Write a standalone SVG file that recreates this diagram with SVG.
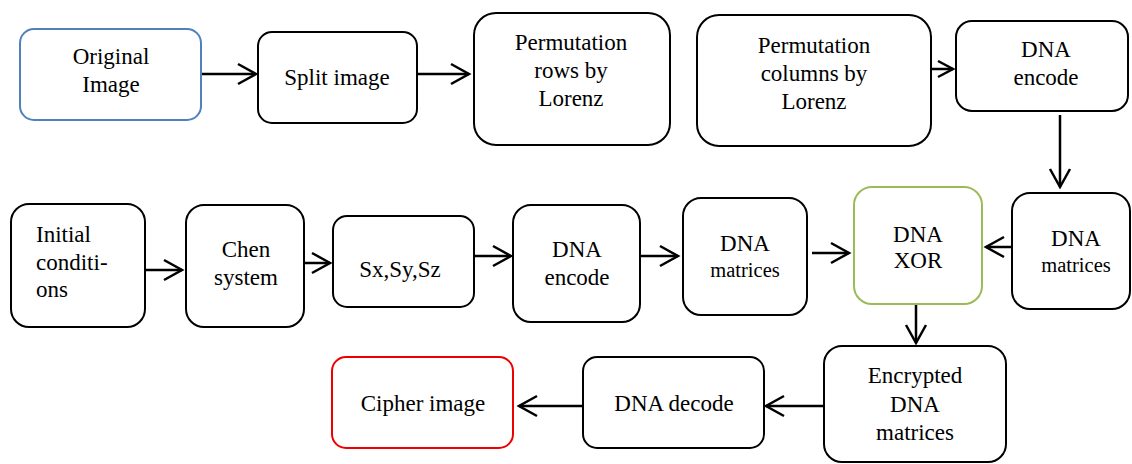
<svg xmlns="http://www.w3.org/2000/svg" width="1132" height="464" viewBox="0 0 1132 464">
<style>
.dgbox{fill:#fff;stroke:#000;stroke-width:2}
.dgconn{fill:none;stroke:#000;stroke-width:2.5}
</style>
<defs>
<marker id="arrowhead" markerUnits="userSpaceOnUse" markerWidth="24" markerHeight="24" refX="20" refY="11" orient="auto" overflow="visible">
<path d="M2,1 L20,11 L2,21" fill="none" stroke="#000" stroke-width="2.5"/>
</marker>
<marker id="arrowsmall" markerUnits="userSpaceOnUse" markerWidth="20" markerHeight="20" refX="17" refY="8" orient="auto" overflow="visible">
<path d="M2,0 L17,8 L2,16" fill="none" stroke="#000" stroke-width="2.5"/>
</marker>
</defs>
<rect width="1132" height="464" fill="#fff"/>
<g id="connectors">
<line class="dgconn" x1="201" y1="74" x2="256" y2="74" marker-end="url(#arrowhead)"/>
<line class="dgconn" x1="417" y1="74" x2="469" y2="74" marker-end="url(#arrowhead)"/>
<line class="dgconn" x1="931" y1="69" x2="953" y2="69" marker-end="url(#arrowsmall)"/>
<line class="dgconn" x1="1060" y1="115" x2="1060" y2="187" marker-end="url(#arrowhead)"/>
<line class="dgconn" x1="145" y1="270" x2="182" y2="270" marker-end="url(#arrowhead)"/>
<line class="dgconn" x1="304" y1="263" x2="330" y2="263" marker-end="url(#arrowhead)"/>
<line class="dgconn" x1="474" y1="256" x2="511" y2="256" marker-end="url(#arrowhead)"/>
<line class="dgconn" x1="640" y1="256" x2="678" y2="256" marker-end="url(#arrowhead)"/>
<line class="dgconn" x1="812" y1="253" x2="849" y2="253" marker-end="url(#arrowhead)"/>
<line class="dgconn" x1="1012" y1="247" x2="986" y2="247" marker-end="url(#arrowhead)"/>
<line class="dgconn" x1="916" y1="304" x2="916" y2="343" marker-end="url(#arrowhead)"/>
<line class="dgconn" x1="824" y1="406" x2="766" y2="406" marker-end="url(#arrowhead)"/>
<line class="dgconn" x1="583" y1="406" x2="519" y2="406" marker-end="url(#arrowhead)"/>
</g>
<g id="original">
<rect class="dgbox" x="20" y="29" width="181" height="91" rx="14" style="stroke:#4f81bd"/>
<text style="font-family:'Liberation Serif'" font-size="23" text-anchor="middle" x="111" y="64">Original</text>
<text style="font-family:'Liberation Serif'" font-size="23" text-anchor="middle" x="111" y="92">Image</text>
</g>
<g id="split">
<rect class="dgbox" x="258" y="32" width="159" height="91" rx="14"/>
<text style="font-family:'Liberation Serif'" font-size="23" text-anchor="middle" x="337" y="85">Split image</text>
</g>
<g id="permrows">
<rect class="dgbox" x="474" y="13" width="196" height="132" rx="22"/>
<text style="font-family:'Liberation Serif'" font-size="23" text-anchor="middle" x="571" y="50">Permutation</text>
<text style="font-family:'Liberation Serif'" font-size="23" text-anchor="middle" x="571" y="78">rows by</text>
<text style="font-family:'Liberation Serif'" font-size="23" text-anchor="middle" x="571" y="106">Lorenz</text>
</g>
<g id="permcols">
<rect class="dgbox" x="697" y="15" width="234" height="131" rx="22"/>
<text style="font-family:'Liberation Serif'" font-size="23" text-anchor="middle" x="814" y="53">Permutation</text>
<text style="font-family:'Liberation Serif'" font-size="23" text-anchor="middle" x="814" y="81">columns by</text>
<text style="font-family:'Liberation Serif'" font-size="23" text-anchor="middle" x="814" y="109">Lorenz</text>
</g>
<g id="dnaencode1">
<rect class="dgbox" x="956" y="21" width="172" height="90" rx="16"/>
<text style="font-family:'Liberation Serif'" font-size="23" text-anchor="middle" x="1046" y="57">DNA</text>
<text style="font-family:'Liberation Serif'" font-size="23" text-anchor="middle" x="1046" y="85">encode</text>
</g>
<g id="initial">
<rect class="dgbox" x="11" y="204" width="134" height="123" rx="18"/>
<text style="font-family:'Liberation Serif'" font-size="23" x="36" y="242">Initial</text>
<text style="font-family:'Liberation Serif'" font-size="23" x="36" y="270">conditi-</text>
<text style="font-family:'Liberation Serif'" font-size="23" x="36" y="297">ons</text>
</g>
<g id="chen">
<rect class="dgbox" x="186" y="205" width="118" height="122" rx="18"/>
<text style="font-family:'Liberation Serif'" font-size="23" text-anchor="middle" x="246" y="257">Chen</text>
<text style="font-family:'Liberation Serif'" font-size="23" text-anchor="middle" x="246" y="285">system</text>
</g>
<g id="sxyz">
<rect class="dgbox" x="333" y="216" width="141" height="91" rx="14"/>
<text style="font-family:'Liberation Serif'" font-size="23" text-anchor="middle" x="400" y="277">Sx,Sy,Sz</text>
</g>
<g id="dnaencode2">
<rect class="dgbox" x="513" y="205" width="127" height="117" rx="18"/>
<text style="font-family:'Liberation Serif'" font-size="23" text-anchor="middle" x="577" y="257">DNA</text>
<text style="font-family:'Liberation Serif'" font-size="23" text-anchor="middle" x="577" y="285">encode</text>
</g>
<g id="dnamatrices1">
<rect class="dgbox" x="683" y="198" width="124" height="117" rx="18"/>
<text style="font-family:'Liberation Serif'" font-size="23" text-anchor="middle" x="745" y="251">DNA</text>
<text style="font-family:'Liberation Serif'" font-size="20.5" text-anchor="middle" x="745" y="277">matrices</text>
</g>
<g id="dnaxor">
<rect class="dgbox" x="854" y="187" width="128" height="117" rx="18" style="stroke:#9bbb59"/>
<text style="font-family:'Liberation Serif'" font-size="23" text-anchor="middle" x="918" y="242">DNA</text>
<text style="font-family:'Liberation Serif'" font-size="23" text-anchor="middle" x="918" y="268">XOR</text>
</g>
<g id="dnamatrices2">
<rect class="dgbox" x="1012" y="193" width="118" height="116" rx="18"/>
<text style="font-family:'Liberation Serif'" font-size="23" text-anchor="middle" x="1076" y="246">DNA</text>
<text style="font-family:'Liberation Serif'" font-size="20.5" text-anchor="middle" x="1076" y="272">matrices</text>
</g>
<g id="encrypted">
<rect class="dgbox" x="824" y="346" width="182" height="116" rx="18"/>
<text style="font-family:'Liberation Serif'" font-size="23" text-anchor="middle" x="915" y="383">Encrypted</text>
<text style="font-family:'Liberation Serif'" font-size="23" text-anchor="middle" x="915" y="412">DNA</text>
<text style="font-family:'Liberation Serif'" font-size="23" text-anchor="middle" x="915" y="440">matrices</text>
</g>
<g id="decode">
<rect class="dgbox" x="583" y="357" width="181" height="91" rx="14"/>
<text style="font-family:'Liberation Serif'" font-size="23" text-anchor="middle" x="674" y="411">DNA decode</text>
</g>
<g id="cipher">
<rect class="dgbox" x="332" y="357" width="181" height="91" rx="14" style="stroke:#e00"/>
<text style="font-family:'Liberation Serif'" font-size="23" text-anchor="middle" x="423" y="411">Cipher image</text>
</g>
</svg>
